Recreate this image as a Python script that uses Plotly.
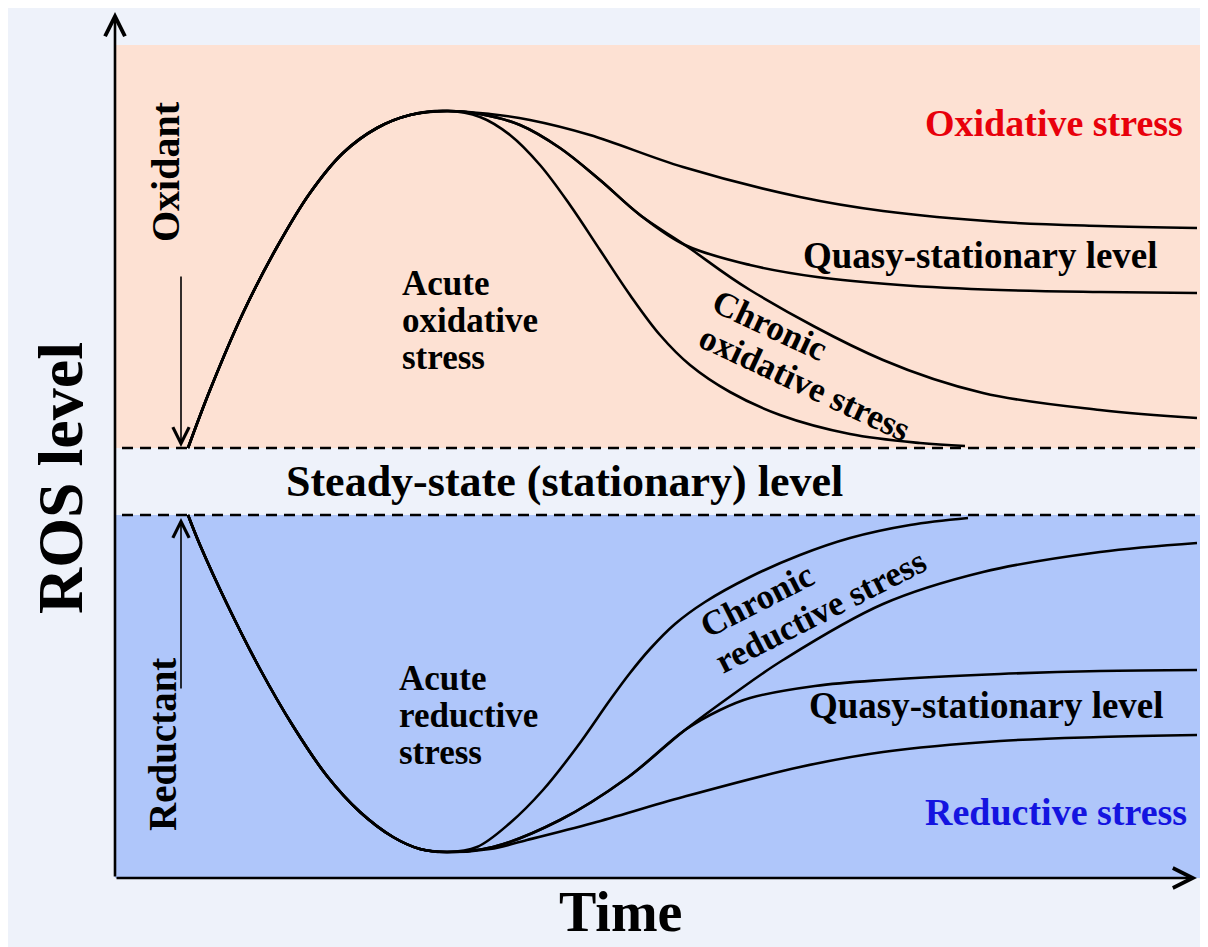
import plotly.graph_objects as go

# ---------------- data (time units, ROS-level units) ----------------
# shared rise (oxidant) and fall (reductant) phases
rise_t = [73, 95, 128, 162, 195, 228, 262, 295, 332]
rise_L = [430, 488, 565, 631, 685, 725, 750, 763, 767]
fall_t = [73, 85, 112, 145, 178, 212, 245, 278, 305, 332]
fall_L = [363, 333, 274, 209, 152, 102, 66, 41, 29, 26]

# oxidative branches after the peak
oxA_t = [375, 415, 475, 568, 685, 768, 885, 985, 1082]
oxA_L = [764, 758, 743, 711, 681, 667, 656, 652, 650]
oxBC_t = [365, 405, 445, 485, 525, 570]
oxBC_L = [764, 753, 730, 698, 663, 633]
oxB_t = [635, 702, 785, 885, 985, 1082]
oxB_L = [613, 601, 593, 588, 586, 585]
oxC_t = [635, 768, 868, 985, 1082]
oxC_L = [588, 518, 485, 468, 460]
oxD_t = [365, 395, 425, 455, 485, 515, 545, 575, 615, 665, 735, 805, 850]
oxD_L = [761, 743, 713, 673, 628, 583, 543, 513, 486, 463, 444, 435, 432]

# reductive branches after the trough
reA_t = [375, 412, 478, 568, 685, 768, 885, 985, 1082]
reA_L = [29, 38, 55, 81, 111, 126, 137, 141, 143]
reBC_t = [378, 445, 512, 570]
reBC_L = [31, 58, 100, 148]
reB_t = [605, 635, 700, 768, 885, 985, 1082]
reB_L = [168, 180, 192, 198, 204, 207, 208]
reC_t = [620, 668, 768, 868, 985, 1082]
reC_L = [185, 218, 274, 306, 326, 335]
reD_t = [362, 395, 428, 462, 495, 515, 535, 560, 590, 635, 685, 735, 795, 853]
reD_L = [31, 55, 88, 131, 178, 205, 229, 254, 276, 301, 323, 340, 353, 360]

# zone levels
steady_low, steady_high = 363, 430
oxid_top = 833
t_start_dash = 7
t_end = 1087
axis_t_max, axis_L_max = 1082, 866
oxidant_arrow = (603, 431)
reductant_arrow = (188, 360)
arrow_t = 66

# ---------------- figure ----------------
FONT = "Liberation Serif, Times New Roman, serif"
fig = go.Figure()

curves = [
    (rise_t + oxA_t, rise_L + oxA_L),
    (rise_t + oxBC_t + oxB_t, rise_L + oxBC_L + oxB_L),
    (rise_t + oxBC_t + oxC_t, rise_L + oxBC_L + oxC_L),
    (rise_t + oxD_t, rise_L + oxD_L),
    (fall_t + reA_t, fall_L + reA_L),
    (fall_t + reBC_t + reB_t, fall_L + reBC_L + reB_L),
    (fall_t + reBC_t + reC_t, fall_L + reBC_L + reC_L),
    (fall_t + reD_t, fall_L + reD_L),
]
for tx, ly in curves:
    fig.add_trace(go.Scatter(x=tx, y=ly, mode="lines",
                             line=dict(color="black", width=2.6, shape="spline", smoothing=1.0),
                             hoverinfo="skip", showlegend=False))

shapes = [
    dict(type="rect", xref="x", yref="y", x0=0, x1=t_end, y0=steady_high, y1=oxid_top,
         fillcolor="#FDE1D3", line=dict(width=0), layer="below"),
    dict(type="rect", xref="x", yref="y", x0=0, x1=t_end, y0=0, y1=steady_low,
         fillcolor="#AFC6FA", line=dict(width=0), layer="below"),
    dict(type="line", xref="x", yref="y", x0=t_start_dash, x1=t_end, y0=steady_high, y1=steady_high,
         line=dict(color="black", width=2.5, dash="11px,7px")),
    dict(type="line", xref="x", yref="y", x0=t_start_dash, x1=t_end, y0=steady_low, y1=steady_low,
         line=dict(color="black", width=2.5, dash="11px,7px")),
]

ann = []
def arrow(x, y, ax, ay, w, size):
    ann.append(dict(x=x, y=y, ax=ax, ay=ay, xref="x", yref="y", axref="x", ayref="y",
                    text="", showarrow=True, arrowhead=5, arrowsize=size, arrowwidth=w,
                    arrowcolor="black", standoff=0, startstandoff=0))

arrow(0, axis_L_max, 0, 0, 2.6, 1.5)
arrow(axis_t_max, 0, 0, 0, 2.6, 1.5)
arrow(arrow_t, oxidant_arrow[1], arrow_t, oxidant_arrow[0], 1.6, 2.0)
arrow(arrow_t, reductant_arrow[1], arrow_t, reductant_arrow[0], 1.6, 2.0)

def txt(s, x, y, size, color="black", angle=0, xanchor="center"):
    ann.append(dict(x=x, y=y, xref="x", yref="y", text=s, showarrow=False,
                    textangle=angle, xanchor=xanchor, yanchor="middle", borderpad=0,
                    font=dict(family=FONT, size=size, color=color, weight="bold")))

txt("ROS level", -55, 400, 64, angle=-90)
txt("Time", 505, -34, 56)
txt("Oxidant", 50, 706, 40, angle=-90)
txt("Reductant", 47, 133, 39, angle=-90)
txt("Oxidative stress", 939, 755, 38, color="#E8000B")
txt("Reductive stress", 941, 66, 38, color="#1414E0")
txt("Steady-state (stationary) level", 449, 397, 44)
txt("Quasy-stationary level", 865, 623, 37)
txt("Quasy-stationary level", 871, 173, 37)
for s, L in [("Acute", 595), ("oxidative", 558), ("stress", 521)]:
    txt(s, 286, L, 35, xanchor="left")
for s, L in [("Acute", 200), ("reductive", 163), ("stress", 126)]:
    txt(s, 283, L, 35, xanchor="left")
txt("Chronic", 655, 553, 35, angle=25)
txt("oxidative stress", 690, 495, 35, angle=25)
txt("Chronic", 642, 278, 35, angle=-27)
txt("reductive stress", 705, 267, 35, angle=-27)

fig.update_layout(
    width=1200, height=939,
    margin=dict(l=0, r=0, t=0, b=0),
    paper_bgcolor="#EEF2FA", plot_bgcolor="#EEF2FA",
    xaxis=dict(range=[-107, 1093], visible=False, fixedrange=True),
    yaxis=dict(range=[-69, 870], visible=False, fixedrange=True),
    shapes=shapes, annotations=ann, showlegend=False,
)
fig.write_html("out.html")
